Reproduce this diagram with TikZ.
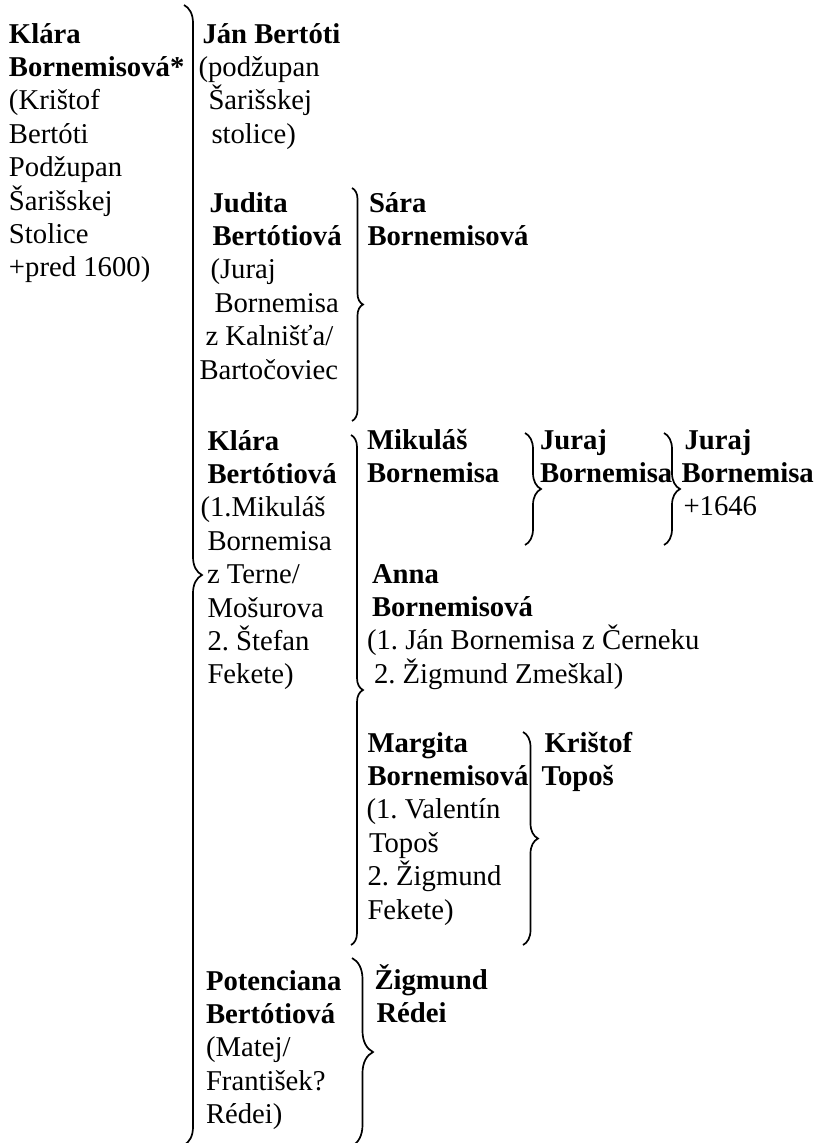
\documentclass[tikz,border=0pt]{standalone}
\usepackage{fontspec}
\setmainfont{Liberation Serif}
\usetikzlibrary{decorations.pathreplacing}
\frenchspacing
\newcommand\blk[1]{\vtop{\baselineskip=33.4pt\lineskiplimit=-100pt\lineskip=0pt\relax #1}}
\newcommand\Lrow[2][0]{\hbox{\hspace*{#1pt}#2}}
\tikzset{
  txt/.style={anchor=base west, inner sep=0pt, outer sep=0pt,
    font=\fontsize{28.7pt}{33.4pt}\selectfont\frenchspacing},
  brc/.style={decorate, line width=1.7pt, decoration={brace, amplitude=#1}}
}
\begin{document}
\begin{tikzpicture}[x=1pt,y=-1pt]
\useasboundingbox (0,0) rectangle (819,1143);

% text blocks
\node[txt] (klara) at (9,43) {\blk{%
  \Lrow{\textbf{Klára}}
  \Lrow{\textbf{Bornemisová*}}
  \Lrow{(Krištof}
  \Lrow{Bertóti}
  \Lrow{Podžupan}
  \Lrow{Šarišskej}
  \Lrow{Stolice}
  \Lrow{+pred 1600)}}};

\node[txt] (jan) at (198.5,43) {\blk{%
  \Lrow[4]{\textbf{Ján Bertóti}}
  \Lrow{(podžupan}
  \Lrow[10]{Šarišskej}
  \Lrow[13]{stolice)}}};

\node[txt] (judita) at (199.5,212) {\blk{%
  \Lrow[10]{\textbf{Judita}}
  \Lrow[13]{\textbf{Bertótiová}}
  \Lrow[11]{(Juraj}
  \Lrow[15]{Bornemisa}
  \Lrow[6]{z Kalnišťa/}
  \Lrow{Bartočoviec}}};

\node[txt] (sara) at (367.5,212) {\blk{%
  \Lrow[1.5]{\textbf{Sára}}
  \Lrow{\textbf{Bornemisová}}}};

\node[txt] (klarab) at (200.5,450) {\blk{%
  \Lrow[7]{\textbf{Klára}}
  \Lrow[7]{\textbf{Bertótiová}}
  \Lrow{(1.Mikuláš}
  \Lrow[7]{Bornemisa}
  \Lrow[6.5]{z Terne/}
  \Lrow[7]{Mošurova}
  \Lrow[7]{2. Štefan}
  \Lrow[7]{Fekete)}}};

\node[txt] (mikulas) at (367,449) {\blk{%
  \Lrow{\textbf{Mikuláš}}
  \Lrow{\textbf{Bornemisa}}}};

\node[txt] (juraja) at (540,449) {\blk{%
  \Lrow{\textbf{Juraj}}
  \Lrow{\textbf{Bornemisa}}}};

\node[txt] (jurajb) at (681.5,449) {\blk{%
  \Lrow[3]{\textbf{Juraj}}
  \Lrow{\textbf{Bornemisa}}
  \Lrow[2]{+1646}}};

\node[txt] (anna) at (367,583) {\blk{%
  \Lrow[5]{\textbf{Anna}}
  \Lrow[5]{\textbf{Bornemisová}}
  \Lrow{(1. Ján Bornemisa z Černeku}
  \Lrow[7]{2. Žigmund Zmeškal)}}};

\node[txt] (margita) at (366.5,752) {\blk{%
  \Lrow[1]{\textbf{Margita}}
  \Lrow[1]{\textbf{Bornemisová}}
  \Lrow{(1. Valentín}
  \Lrow[2.5]{Topoš}
  \Lrow[1]{2. Žigmund}
  \Lrow[1]{Fekete)}}};

\node[txt] (kristof) at (541.5,752) {\blk{%
  \Lrow[3]{\textbf{Krištof}}
  \Lrow{\textbf{Topoš}}}};

\node[txt] (potenciana) at (206,990) {\blk{%
  \Lrow{\textbf{Potenciana}}
  \Lrow{\textbf{Bertótiová}}
  \Lrow{(Matej/}
  \Lrow{František?}
  \Lrow{Rédei)}}};

\node[txt] (zigmund) at (374.5,989) {\blk{%
  \Lrow{\textbf{Žigmund}}
  \Lrow[2]{\textbf{Rédei}}}};

% brace end points
\coordinate (bigT) at (184,5);     \coordinate (bigB) at (184,1145);
\coordinate (judT) at (352,188);   \coordinate (judB) at (352,421);
\coordinate (klbT) at (351,435);   \coordinate (klbB) at (351,945);
\coordinate (mikT) at (525,433);   \coordinate (mikB) at (525,545);
\coordinate (jurT) at (664,433);   \coordinate (jurB) at (664,545);
\coordinate (marT) at (523,732);   \coordinate (marB) at (523,945);
\coordinate (potT) at (352,958);   \coordinate (potB) at (352,1146);

% braces
\draw[brc=18pt] (bigT) -- (bigB);
\draw[brc=11pt] (judT) -- (judB);
\draw[brc=12pt] (klbT) -- (klbB);
\draw[brc=16pt] (mikT) -- (mikB);
\draw[brc=16pt] (jurT) -- (jurB);
\draw[brc=15pt] (marT) -- (marB);
\draw[brc=21pt] (potT) -- (potB);
\end{tikzpicture}
\end{document}
